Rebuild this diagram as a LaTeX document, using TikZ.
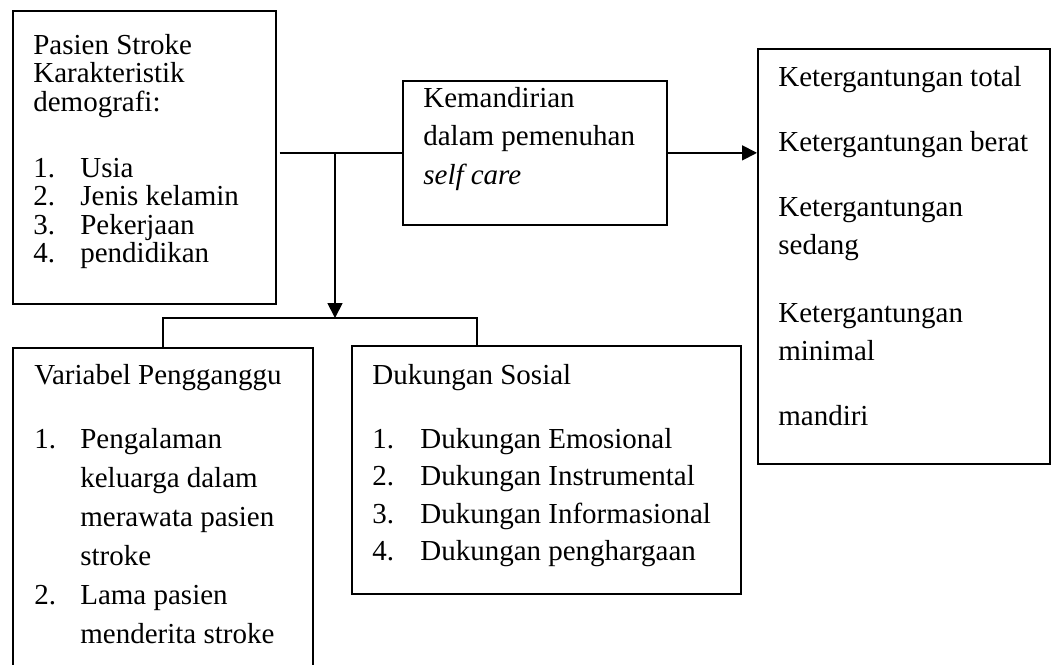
\documentclass[tikz,border=0pt]{standalone}
\usepackage{fontspec}
\setmainfont{Liberation Serif}
\usetikzlibrary{calc, positioning, arrows.meta}

\begin{document}
\begin{tikzpicture}[
        x=0.02cm, y=-0.02cm,
        box_var/.style={draw, rectangle, line width=1pt, anchor=north west, inner sep=0pt},
        teks/.style={anchor=base west, inner sep=0pt, font=\fontsize{16.5}{19}\selectfont},
        arrow/.style={-{Triangle[length=0.3cm, width=0.3cm]}, line width=1pt},
        plain_line/.style={line width=1pt}
    ]
    \path[use as bounding box] (0,0) rectangle (1051,664);
    \clip (0,0) rectangle (1051,664);

    % ==================== Boxes ====================
    \node[box_var, minimum width=5.26cm, minimum height=5.86cm] (pasien) at (12,10) {};
    \node[box_var, minimum width=5.28cm, minimum height=2.88cm] (kemandirian) at (402,80) {};
    \node[box_var, minimum width=5.84cm, minimum height=8.30cm] (hasil) at (757,48) {};
    \node[box_var, minimum width=6.00cm, minimum height=6.86cm] (variabel) at (12,347) {};
    \node[box_var, minimum width=7.78cm, minimum height=4.96cm] (sosial) at (351,345) {};

    % ==================== Texts ====================
    % Pasien stroke
    \foreach \y/\t [count=\i] in {54/Pasien Stroke, 82.5/Karakteristik, 111/demografi:}
        \node[teks] (pasien_h\i) at (33,\y) {\t};
    \foreach \y/\n/\t [count=\i] in {177/1./Usia, 205.5/2./Jenis kelamin, 234/3./Pekerjaan, 262.5/4./pendidikan} {
        \node[teks] (pasien_n\i) at (33,\y) {\n};
        \node[teks] (pasien_i\i) at (80,\y) {\t};
    }

    % Kemandirian
    \foreach \y/\t [count=\i] in {107/Kemandirian, 145/dalam pemenuhan, 184/\textit{self care}}
        \node[teks] (kemandirian_t\i) at (423,\y) {\t};

    % Tingkat ketergantungan
    \foreach \y/\t [count=\i] in {86/Ketergantungan total, 151/Ketergantungan berat, 216/Ketergantungan, 254/sedang, 322/Ketergantungan, 360/minimal, 425/mandiri}
        \node[teks] (hasil_t\i) at (778,\y) {\t};

    % Variabel pengganggu
    \node[teks] (variabel_h) at (34,384) {Variabel Pengganggu};
    \node[teks] (variabel_n1) at (34,448) {1.};
    \node[teks] (variabel_n2) at (34,604) {2.};
    \foreach \y/\t [count=\i] in {448/Pengalaman, 487/keluarga dalam, 526/merawata pasien, 565/stroke, 604/Lama pasien, 643/menderita stroke}
        \node[teks] (variabel_i\i) at (80,\y) {\t};

    % Dukungan sosial
    \node[teks] (sosial_h) at (372,384) {Dukungan Sosial};
    \foreach \y/\n/\t [count=\i] in {448/1./Dukungan Emosional, 485.5/2./Dukungan Instrumental, 523/3./Dukungan Informasional, 560.5/4./Dukungan penghargaan} {
        \node[teks] (sosial_n\i) at (372,\y) {\n};
        \node[teks] (sosial_i\i) at (420,\y) {\t};
    }

    % ==================== Connections ====================
    \coordinate (bagi) at (335,318);
    \draw[plain_line] ($(pasien.east |- kemandirian.west)+(3,0)$) -- (kemandirian.west);
    \draw[arrow] (bagi |- kemandirian.west) -- (bagi);
    \draw[arrow] (kemandirian.east) -- (kemandirian.east -| hasil.west);
    \draw[plain_line] (variabel.north) |- (bagi) -| ($(sosial.north west)+(126,0)$);

\end{tikzpicture}
\end{document}
